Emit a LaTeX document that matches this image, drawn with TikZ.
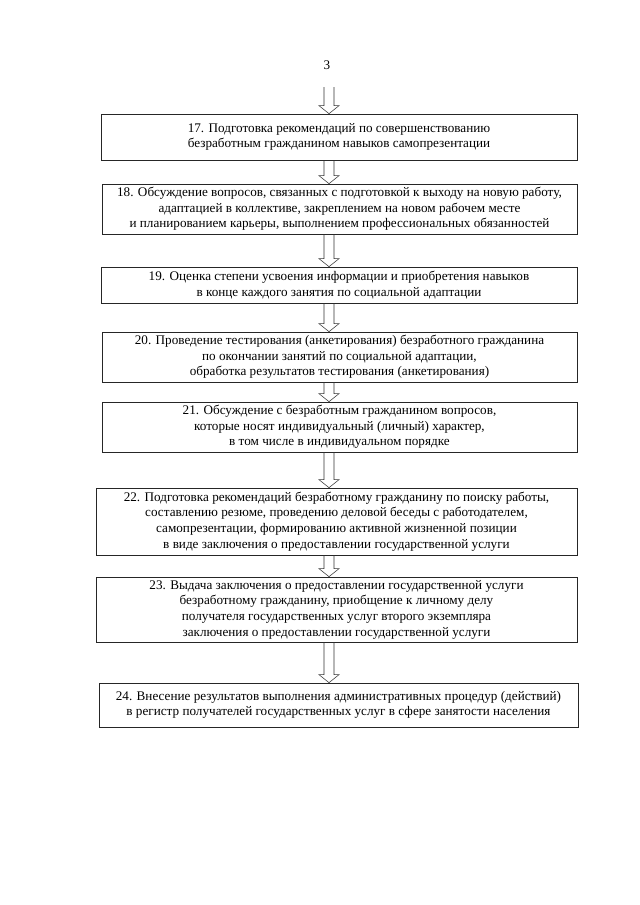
\documentclass[tikz,border=0pt]{standalone}
\usepackage{fontspec}
\setmainfont{Liberation Serif}
\usetikzlibrary{calc}

% one unit = one pixel of the 640 x 905 page
\newcommand{\pxu}{0.328125mm}

% hollow block arrow straight down from one box to the next
\newcommand{\hollowarrow}[2]{%
  \path (#1 -| axis) coordinate (s) (#2 -| axis) coordinate (e);
  \draw[arrowline] ($(s)+(-5,0)$) -- ($(e)+(-5,-8)$) -- ($(e)+(-10,-8)$) -- (e)
    -- ($(e)+(10,-8)$) -- ($(e)+(5,-8)$) -- ($(s)+(5,0)$);
}

\begin{document}
\begin{tikzpicture}[x=\pxu, y=-\pxu]
    % Define styles
    \tikzstyle{procbox} = [rectangle, draw=black!85, line width=0.6pt, align=center, inner sep=0pt, font=\fontsize{12.3}{14.6}\selectfont]
    \tikzstyle{arrowline} = [draw=black!80, line width=0.5pt, line join=miter]

    \useasboundingbox (0,0) rectangle (640,905);
    \coordinate (axis) at (329,0);

    % Page number
    \node[font=\fontsize{12.3}{14.6}\selectfont] (page) at (327,65) {3};
    \coordinate (top) at (329,87);

    % Boxes
    \node[procbox, minimum width=476*\pxu, minimum height=46*\pxu] (b17) at (339,137)
        {17. Подготовка рекомендаций по совершенствованию\\
         безработным гражданином навыков самопрезентации};
    \node[procbox, minimum width=475*\pxu, minimum height=50*\pxu] (b18) at (339.5,209)
        {18. Обсуждение вопросов, связанных с подготовкой к выходу на новую работу,\\
         адаптацией в коллективе, закреплением на новом рабочем месте\\
         и планированием карьеры, выполнением профессиональных обязанностей};
    \node[procbox, minimum width=476*\pxu, minimum height=36*\pxu] (b19) at (339,285)
        {19. Оценка степени усвоения информации и приобретения навыков\\
         в конце каждого занятия по социальной адаптации};
    \node[procbox, minimum width=475*\pxu, minimum height=50*\pxu] (b20) at (339.5,357)
        {20. Проведение тестирования (анкетирования) безработного гражданина\\
         по окончании занятий по социальной адаптации,\\
         обработка результатов тестирования (анкетирования)};
    \node[procbox, minimum width=475*\pxu, minimum height=50*\pxu] (b21) at (339.5,427)
        {21. Обсуждение с безработным гражданином вопросов,\\
         которые носят индивидуальный (личный) характер,\\
         в том числе в индивидуальном порядке};
    \node[procbox, minimum width=481*\pxu, minimum height=67*\pxu] (b22) at (336.5,521.5)
        {22. Подготовка рекомендаций безработному гражданину по поиску работы,\\
         составлению резюме, проведению деловой беседы с работодателем,\\
         самопрезентации, формированию активной жизненной позиции\\
         в виде заключения о предоставлении государственной услуги};
    \node[procbox, minimum width=481*\pxu, minimum height=65*\pxu] (b23) at (336.5,609.5)
        {23. Выдача заключения о предоставлении государственной услуги\\
         безработному гражданину, приобщение к личному делу\\
         получателя государственных услуг второго экземпляра\\
         заключения о предоставлении государственной услуги};
    \node[procbox, minimum width=479*\pxu, minimum height=44*\pxu] (b24) at (338.5,705)
        {24. Внесение результатов выполнения административных процедур (действий)\\
         в регистр получателей государственных услуг в сфере занятости населения};

    % Arrows
    \hollowarrow{top}{b17.north}
    \hollowarrow{b17.south}{b18.north}
    \hollowarrow{b18.south}{b19.north}
    \hollowarrow{b19.south}{b20.north}
    \hollowarrow{b20.south}{b21.north}
    \hollowarrow{b21.south}{b22.north}
    \hollowarrow{b22.south}{b23.north}
    \hollowarrow{b23.south}{b24.north}

\end{tikzpicture}
\end{document}
